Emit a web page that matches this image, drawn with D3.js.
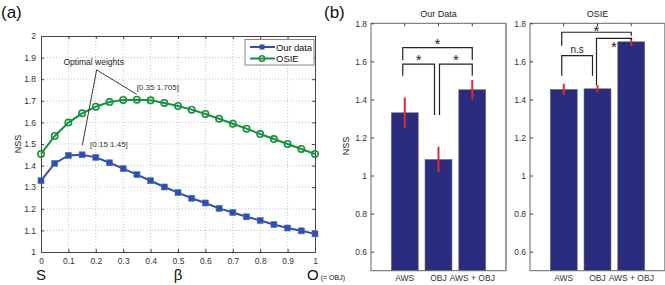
<!DOCTYPE html>
<html>
<head>
<meta charset="utf-8">
<script src="https://cdn.jsdelivr.net/npm/d3@7"></script>
<style>
  body { margin: 0; background: #fff; }
  svg { display: block; font-family: "Liberation Sans", Arial, sans-serif; }
  .axis text { fill: #333; font-size: 8.5px; }
  .axis path, .axis line { stroke: #444; }
</style>
</head>
<body>
<script>
// ---- data ----
const betas = [0, 0.05, 0.1, 0.15, 0.2, 0.25, 0.3, 0.35, 0.4, 0.45, 0.5,
               0.55, 0.6, 0.65, 0.7, 0.75, 0.8, 0.85, 0.9, 0.95, 1];
const ourData = [1.33, 1.41, 1.447, 1.45, 1.438, 1.413, 1.386, 1.358, 1.33, 1.301, 1.275,
                 1.249, 1.227, 1.202, 1.183, 1.163, 1.146, 1.127, 1.111, 1.098, 1.084];
const osieData = [1.454, 1.537, 1.599, 1.642, 1.673, 1.694, 1.704, 1.705, 1.702, 1.69, 1.676,
                  1.659, 1.639, 1.617, 1.594, 1.571, 1.546, 1.523, 1.5, 1.477, 1.454];
const seriesNames = ["Our data", "OSIE"];

const categories = ["AWS", "OBJ", "AWS + OBJ"];
const ourMeans = [1.33, 1.085, 1.451];
const ourErr = [0.08, 0.066, 0.051];
const osieMeans = [1.453, 1.456, 1.703];
const osieErr = [0.03, 0.02, 0.021];

// significance brackets: from/to category, bar level, leg ends (data units), label
const ourBrackets = [
  {from: 0, to: 2, y: 1.672, endFrom: 1.607, endTo: 1.607, dFrom: -2, dTo: 0, label: "*", ly: -6},
  {from: 0, to: 1, y: 1.586, endFrom: 1.525, endTo: 1.318, dFrom: -2, dTo: -4, label: "*", ly: -6},
  {from: 1, to: 2, y: 1.586, endFrom: 1.318, endTo: 1.525, dFrom: 1, dTo: 0, label: "*", ly: -6}
];
const osieBrackets = [
  {from: 0, to: 2, y: 1.753, endFrom: 1.682, endTo: 1.735, dFrom: -2, dTo: 0, label: "*", ly: -3},
  {from: 0, to: 1, y: 1.63, endFrom: 1.525, endTo: 1.525, dFrom: -2, dTo: -5, label: "n.s", ly: -3},
  {from: 1, to: 2, y: 1.721, endFrom: 1.476, endTo: 1.712, dFrom: -1, dTo: 0, label: "*", ly: 7}
];

const W = 665, H = 285;
const blue = "#2d4fae", green = "#18903d", navy = "#2a2d7d", red = "#e8262b";

const svg = d3.select("body").append("svg").attr("width", W).attr("height", H);

// ================= panel (a) =================
const x = d3.scaleLinear().domain([0, 1]).range([41, 315]);
const y = d3.scaleLinear().domain([1, 2]).range([252, 36]);
const xt = d3.range(0, 1.0001, 0.1).map(v => +v.toFixed(1));
const yt = d3.range(1, 2.0001, 0.1).map(v => +v.toFixed(1));

const pa = svg.append("g");

// dotted grid
pa.selectAll(".gx").data(xt.slice(1, -1)).enter().append("line")
  .attr("x1", d => x(d)).attr("x2", d => x(d)).attr("y1", y(1)).attr("y2", y(2))
  .attr("stroke", "#c4c4c4").attr("stroke-dasharray", "1,2");
pa.selectAll(".gy").data(yt.slice(1, -1)).enter().append("line")
  .attr("y1", d => y(d)).attr("y2", d => y(d)).attr("x1", x(0)).attr("x2", x(1))
  .attr("stroke", "#c4c4c4").attr("stroke-dasharray", "1,2");

pa.append("g").attr("class", "axis").attr("transform", `translate(0,${y(1)})`)
  .call(d3.axisBottom(x).tickValues(xt).tickSize(-3).tickPadding(6).tickFormat(d3.format("~g")));
pa.append("g").attr("class", "axis").attr("transform", `translate(${x(0)},0)`)
  .call(d3.axisLeft(y).tickValues(yt).tickSize(-3).tickPadding(5).tickFormat(d3.format("~g")));
pa.append("g").attr("class", "axis").attr("transform", `translate(0,${y(2)})`)
  .call(d3.axisTop(x).tickValues(xt).tickSize(-3).tickFormat(""));
pa.append("g").attr("class", "axis").attr("transform", `translate(${x(1)},0)`)
  .call(d3.axisRight(y).tickValues(yt).tickSize(-3).tickFormat(""));

const line = d3.line().x((d, i) => x(betas[i])).y(d => y(d));
pa.append("path").datum(ourData).attr("d", line).attr("fill", "none")
  .attr("stroke", blue).attr("stroke-width", 2);
pa.append("path").datum(osieData).attr("d", line).attr("fill", "none")
  .attr("stroke", green).attr("stroke-width", 2);

pa.selectAll(".sq").data(ourData).enter().append("rect")
  .attr("x", (d, i) => x(betas[i]) - 3).attr("y", d => y(d) - 3)
  .attr("width", 6).attr("height", 6).attr("fill", blue).attr("stroke", "#5570c0").attr("stroke-width", 0.6);
pa.selectAll(".ci").data(osieData).enter().append("circle")
  .attr("cx", (d, i) => x(betas[i])).attr("cy", d => y(d)).attr("r", 3.2)
  .attr("fill", "none").attr("stroke", green).attr("stroke-width", 1.6);

// annotations
const apex = [0.203, 1.843];
pa.append("line").attr("x1", x(apex[0])).attr("y1", y(apex[1]))
  .attr("x2", x(0.349)).attr("y2", y(1.73)).attr("stroke", "#222").attr("stroke-width", 0.9);
pa.append("line").attr("x1", x(apex[0])).attr("y1", y(apex[1]))
  .attr("x2", x(0.151)).attr("y2", y(1.495)).attr("stroke", "#222").attr("stroke-width", 0.9);
pa.append("text").attr("x", x(0.082)).attr("y", y(1.88) + 3).attr("font-size", 8.5)
  .attr("fill", "#222").text("Optimal weights");
pa.append("text").attr("x", x(0.349)).attr("y", y(1.763) + 3).attr("font-size", 8)
  .attr("fill", "#333").text("[0.35 1.705]");
pa.append("text").attr("x", x(0.179)).attr("y", y(1.499) + 3).attr("font-size", 8)
  .attr("fill", "#333").text("[0.15 1.45]");

// legend
const lg = pa.append("g").attr("transform", "translate(245,39.5)");
lg.append("rect").attr("width", 69).attr("height", 25.5).attr("fill", "#fff").attr("stroke", "#888");
[blue, green].forEach((c, i) => {
  const ly = 7.5 + i * 11.5;
  lg.append("line").attr("x1", 5).attr("x2", 30).attr("y1", ly).attr("y2", ly)
    .attr("stroke", c).attr("stroke-width", 2);
  if (i === 0) {
    lg.append("rect").attr("x", 14.5).attr("y", ly - 2.5).attr("width", 5).attr("height", 5).attr("fill", c);
  } else {
    lg.append("circle").attr("cx", 17).attr("cy", ly).attr("r", 2.8).attr("fill", "none")
      .attr("stroke", c).attr("stroke-width", 1.4);
  }
  lg.append("text").attr("x", 31).attr("y", ly + 3.5).attr("font-size", 9.5).attr("fill", "#111")
    .attr("textLength", i === 0 ? 36 : null).text(seriesNames[i]);
});

pa.append("text").attr("transform", `translate(21,${y(1.5)}) rotate(-90)`)
  .attr("text-anchor", "middle").attr("font-size", 9).attr("fill", "#222").text("NSS");
pa.append("text").attr("x", x(0)).attr("y", 280).attr("text-anchor", "middle")
  .attr("font-size", 15).attr("fill", "#111").text("S");
pa.append("text").attr("x", 178).attr("y", 280).attr("text-anchor", "middle")
  .attr("font-size", 15).attr("fill", "#111").text("β");
const ot = pa.append("text").attr("x", 307).attr("y", 280).attr("fill", "#111");
ot.append("tspan").attr("font-size", 15).text("O");
ot.append("tspan").attr("font-size", 7).attr("dx", 2).text("(= OBJ)");

svg.append("text").attr("x", 1).attr("y", 18).attr("font-size", 17).attr("fill", "#111").text("(a)");
svg.append("text").attr("x", 324).attr("y", 18).attr("font-size", 17).attr("fill", "#111").text("(b)");

// ================= panel (b) =================
const yb = d3.scaleLinear().domain([0.5, 1.8]).range([270.7, 23.3]);
const ybt = d3.range(0.6, 1.8001, 0.2).map(v => +v.toFixed(1));

function barPanel(x0, x1, title, means, errs, brackets) {
  const g = svg.append("g");
  const xb = d3.scaleBand().domain(categories).range([x0, x1]).paddingInner(0.2).paddingOuter(0.6);
  const cx = i => xb(categories[i]) + xb.bandwidth() / 2;

  g.selectAll(".bar").data(means).enter().append("rect")
    .attr("x", (d, i) => xb(categories[i])).attr("width", xb.bandwidth())
    .attr("y", d => yb(d)).attr("height", d => yb(0.5) - yb(d))
    .attr("fill", navy).attr("stroke", "#777").attr("stroke-width", 0.6);

  g.selectAll(".err").data(means).enter().append("line")
    .attr("x1", (d, i) => cx(i)).attr("x2", (d, i) => cx(i))
    .attr("y1", (d, i) => yb(d - errs[i])).attr("y2", (d, i) => yb(d + errs[i]))
    .attr("stroke", red).attr("stroke-width", 2);

  // frame
  g.append("rect").attr("x", x0).attr("y", yb(1.8)).attr("width", x1 - x0).attr("height", yb(0.5) - yb(1.8))
    .attr("fill", "none").attr("stroke", "#666").attr("stroke-width", 1);
  g.append("line").attr("x1", x1).attr("x2", x1).attr("y1", yb(1.8)).attr("y2", yb(0.5))
    .attr("stroke", "#9a9a9a").attr("stroke-width", 1.6);

  g.append("g").attr("class", "axis").attr("transform", `translate(${x0},0)`)
    .call(d3.axisLeft(yb).tickValues(ybt).tickSize(-3).tickPadding(4).tickFormat(d3.format("~g")))
    .call(s => s.select(".domain").remove());
  g.append("g").attr("class", "axis").attr("transform", `translate(0,${yb(0.5)})`)
    .call(d3.axisBottom(xb).tickSize(0).tickPadding(4))
    .call(s => s.select(".domain").remove())
    .selectAll("text").attr("font-size", 7.5);
  g.append("g").attr("class", "axis").attr("transform", `translate(0,${yb(1.8)})`)
    .call(d3.axisTop(xb).tickSize(-3).tickFormat(""))
    .call(s => s.select(".domain").remove());

  // brackets
  brackets.forEach(b => {
    const xa = cx(b.from) + b.dFrom, xz = cx(b.to) + b.dTo;
    g.append("path")
      .attr("d", `M${xa},${yb(b.endFrom)}V${yb(b.y)}H${xz}V${yb(b.endTo)}`)
      .attr("fill", "none").attr("stroke", "#222").attr("stroke-width", 1.2);
    const mx = (xa + xz) / 2;
    if (b.label === "*") {
      g.append("text").attr("x", mx).attr("y", yb(b.y) + b.ly + 7)
        .attr("text-anchor", "middle").attr("font-size", 15).attr("fill", "#222").text("*");
    } else {
      g.append("text").attr("x", mx).attr("y", yb(b.y) + b.ly)
        .attr("text-anchor", "middle").attr("font-size", 10).attr("fill", "#222").text(b.label);
    }
  });

  g.append("text").attr("x", (x0 + x1) / 2).attr("y", 17).attr("text-anchor", "middle")
    .attr("font-size", 9).attr("fill", "#222").text(title);
  return g;
}

barPanel(371, 506, "Our Data", ourMeans, ourErr, ourBrackets);
barPanel(530, 665, "OSIE", osieMeans, osieErr, osieBrackets);

svg.append("text").attr("transform", `translate(349,146) rotate(-90)`)
  .attr("text-anchor", "middle").attr("font-size", 9).attr("fill", "#222").text("NSS");
</script>
</body>
</html>
